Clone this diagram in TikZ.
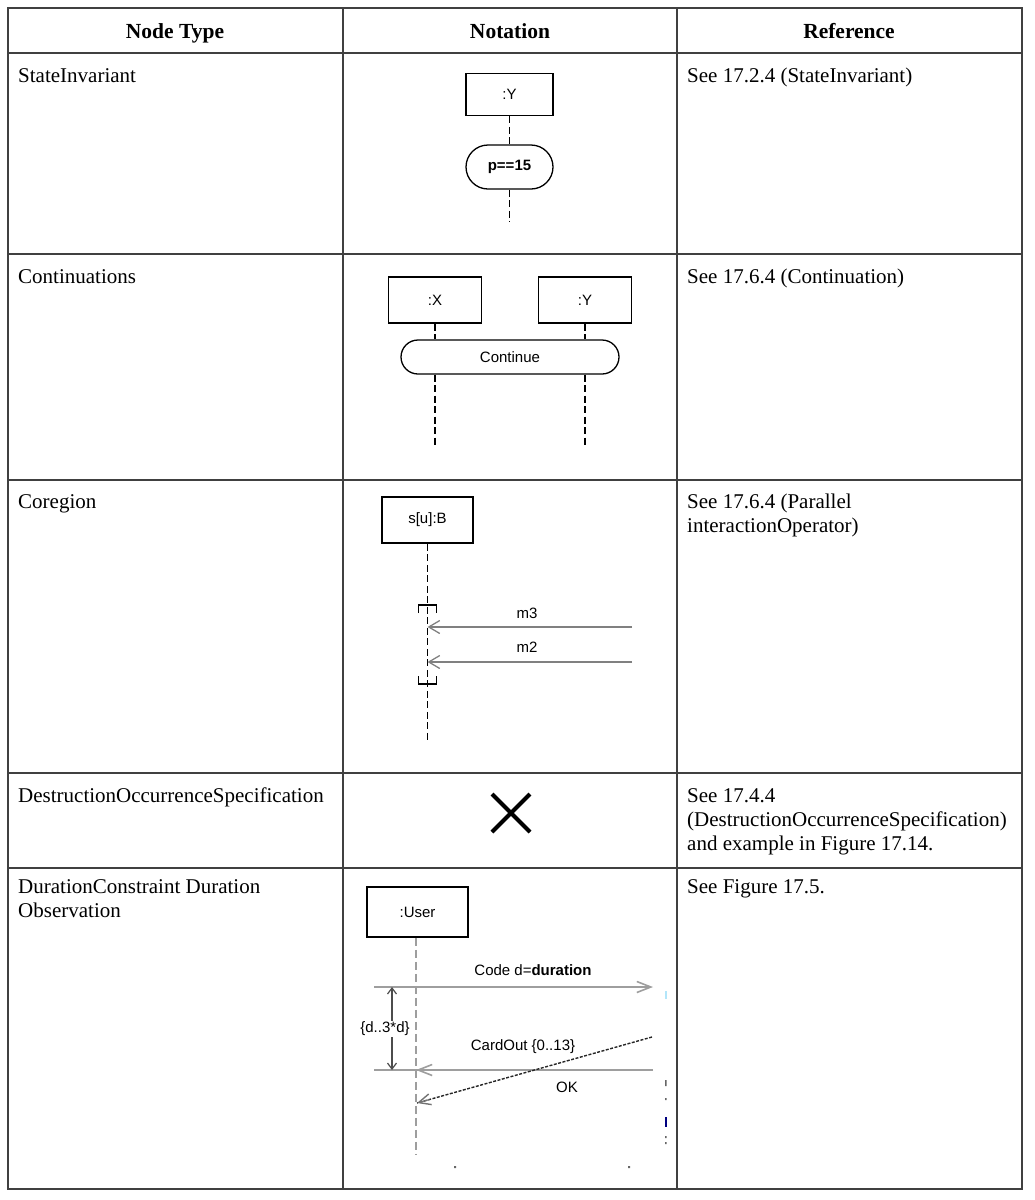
\documentclass[tikz,border=0pt]{standalone}
\usepackage{fontspec}
\setmainfont{Liberation Serif}
\newfontfamily\diagfont{Liberation Sans}
\usetikzlibrary{arrows.meta,shapes.misc,calc}

\begin{document}
\begin{tikzpicture}[x=1pt,y=-1pt,
  tableline/.style={line width=1.4pt,black!75},
  cell/.style={font=\fontsize{21}{24}\selectfont,inner sep=0,anchor=base west},
  headcell/.style={font=\fontsize{21.5}{24}\selectfont\bfseries,inner sep=0,anchor=base},
  objbox/.style={draw,line width=1.8pt,font=\diagfont\fontsize{15}{17}\selectfont,inner sep=0},
  pill/.style={draw,rounded rectangle,line width=1.3pt,font=\diagfont\fontsize{15}{17}\selectfont,inner sep=0},
  lifeline/.style={line width=1.7pt,dash pattern=on 7pt off 3.5pt},
  msg/.style={line width=1.6pt,black!50,-{Straight Barb[length=11pt,width=13pt,line width=1.3pt]}},
  gmsg/.style={line width=2.4pt,black!38,-{Straight Barb[length=14pt,width=11pt,line width=1.6pt]}},
  durarr/.style={line width=1.4pt,black!70,-{Straight Barb[length=6pt,width=9pt,line width=1.2pt]}},
  lbl/.style={font=\diagfont\fontsize{15}{17}\selectfont,inner sep=0}]
\useasboundingbox (0,0) rectangle (1035,1200);

\draw[tableline] (8,8) rectangle (1022,1189);
\draw[tableline] (343,8) -- (343,1189) (677,8) -- (677,1189);
\foreach \y in {53,254,480,773,868}
  \draw[tableline] (8,\y) -- (1022,\y);

\node[headcell] (h1) at (175,38) {Node Type};
\node[headcell] (h2) at (510,38) {Notation};
\node[headcell] (h3) at (849,38) {Reference};

\node[cell] (t1) at (18,82) {StateInvariant};
\node[cell] (t2) at (18,283) {Continuations};
\node[cell] (t3) at (18,508) {Coregion};
\node[cell] (t4) at (18,802) {DestructionOccurrenceSpecification};
\node[cell] (t5a) at (18,893) {DurationConstraint Duration};
\node[cell] (t5b) at (18,917) {Observation};

\node[cell] (r1) at (687,82) {See 17.2.4 (StateInvariant)};
\node[cell] (r2) at (687,283) {See 17.6.4 (Continuation)};
\node[cell] (r3a) at (687,508) {See 17.6.4 (Parallel};
\node[cell] (r3b) at (687,532) {interactionOperator)};
\node[cell] (r4a) at (687,802) {See 17.4.4};
\node[cell] (r4b) at (687,826) {(DestructionOccurrenceSpecification)};
\node[cell] (r4c) at (687,850) {and example in Figure 17.14.};
\node[cell] (r5) at (687,893) {See Figure 17.5.};

\node[objbox,minimum width=87pt,minimum height=42pt] (y1) at (509.5,94.5) {:Y};
\node[pill,minimum width=87pt,minimum height=44pt] (inv) at (509.5,167) {\bfseries p==15};
\coordinate (y1end) at (509.5,222);
\draw[lifeline] (y1.south) -- (inv.north);
\draw[lifeline] (inv.south) -- (y1end);

\node[objbox,minimum width=93pt,minimum height=46pt] (x2) at (435,300) {:X};
\node[objbox,minimum width=93pt,minimum height=46pt] (y2) at (585,300) {:Y};
\node[pill,minimum width=218pt,minimum height=34pt] (cont) at (510,357) {Continue};
\coordinate (x2end) at (435,445);
\coordinate (y2end) at (585,445);
\draw[lifeline] (x2.south) -- (x2.south |- cont.north) (x2.south |- cont.south) -- (x2end);
\draw[lifeline] (y2.south) -- (y2.south |- cont.north) (y2.south |- cont.south) -- (y2end);

\node[objbox,minimum width=91pt,minimum height=46pt] (b3) at (427.5,520) {s[u]:B};
\coordinate (b3end) at (427.5,740);
\draw[lifeline] (b3.south) -- (b3end);
\draw[line width=1.8pt] (418.5,613) -- (418.5,605) -- (436.5,605) -- (436.5,613);
\draw[line width=1.8pt] (418.5,676) -- (418.5,684) -- (436.5,684) -- (436.5,676);
\coordinate (m3src) at (632,627);
\coordinate (m2src) at (632,662);
\draw[msg] (m3src) -- (m3src -| b3end);
\draw[msg] (m2src) -- (m2src -| b3end);
\node[lbl] (m3) at (527,613) {m3};
\node[lbl] (m2) at (527,647) {m2};

\draw[line width=4pt] (492,794) -- (530,832) (492,832) -- (530,794);

\node[objbox,minimum width=101pt,minimum height=50pt] (user) at (417.5,912) {:User};
\coordinate (userend) at (416,1155);
\draw[line width=2.6pt,black!38,dash pattern=on 8pt off 4pt] (user.south -| userend) -- (userend);
\coordinate (codeL) at (374,987);
\coordinate (codeR) at (653,987);
\coordinate (okL) at (374,1070);
\coordinate (okR) at (653,1070);
\coordinate (durx) at (392,0);
\draw[gmsg] (codeL) -- (codeR);
\draw[line width=2.4pt,black!38] (okL) -- (okR);
\draw[gmsg] (okR) -- (okR -| userend);
\node[lbl] (code) at (533,970) {Code d=\textbf{duration}};
\node[lbl,fill=white,inner sep=1pt] (dur) at (385,1029) {\{d..3*d\}};
\draw[durarr] (dur.north -| durx) -- (codeL -| durx);
\draw[durarr] (dur.south -| durx) -- (okL -| durx);
\coordinate (cardR) at (652,1037);
\coordinate (cardL) at (417,1103);
\draw[line width=1.4pt,black!85,dash pattern=on 3pt off 1.5pt] (cardR) -- (cardL);
\draw[-{Straight Barb[length=12pt,width=11pt,line width=1.4pt]},black!55,line width=1.2pt] ($(cardL)!13pt!(cardR)$) -- (cardL);
\node[lbl] (card) at (523,1047) {CardOut \{0..13\}};
\node[lbl] (ok) at (567,1087) {OK};

\fill[black!60] (665,1080) rectangle (666.5,1086) (665,1098) rectangle (666.5,1100)
  (665,1136) rectangle (666.5,1138) (665,1142) rectangle (666.5,1144)
  (454,1166) rectangle (456,1168) (628,1166) rectangle (630,1168);
\fill[blue!50!black] (665,1117) rectangle (666.5,1127);
\fill[cyan!30] (665,991) rectangle (666.5,999);
\end{tikzpicture}
\end{document}
